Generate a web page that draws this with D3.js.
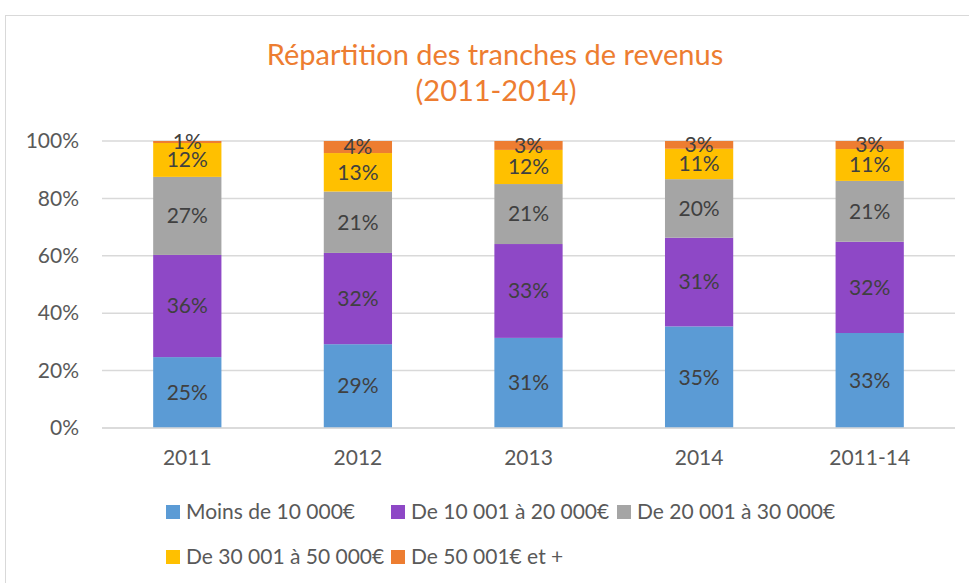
<!DOCTYPE html>
<html>
<head>
<meta charset="utf-8">
<script src="https://cdn.jsdelivr.net/npm/d3@7"></script>
<style>
  body { margin: 0; background: #fff; }
  text { font-family: Lato, "Open Sans", sans-serif; }
</style>
</head>
<body>
<div id="chart"></div>
<script>
var years = ["2011", "2012", "2013", "2014", "2011-14"];
var tranches = ["Moins de 10 000€", "De 10 001 à 20 000€", "De 20 001 à 30 000€",
                "De 30 001 à 50 000€", "De 50 001€ et +"];
var colors = ["#5b9bd5", "#8e48c6", "#a5a5a5", "#ffc000", "#ed7d31"];

// parts in % for each tranche, one value per year
var moins10   = [24.7, 29.2, 31.4, 35.4, 33.1];
var de10a20   = [35.6, 31.8, 32.7, 30.9, 31.8];
var de20a30   = [27.2, 21.4, 20.9, 20.4, 21.2];
var de30a50   = [11.8, 13.4, 11.9, 10.6, 11.1];
var plus50    = [0.7, 4.2, 3.1, 2.7, 2.8];
var yTicks = [0, 20, 40, 60, 80, 100];

var series = [moins10, de10a20, de20a30, de30a50, plus50];

var data = years.map(function(y, i) {
  var row = {year: y};
  tranches.forEach(function(t, j) { row[t] = series[j][i] / 100; });
  return row;
});

var W = 969, H = 583;
var margin = {top: 141, right: 14, bottom: 155, left: 102},
    width = W - margin.left - margin.right,
    height = H - margin.top - margin.bottom;

var svg = d3.select("#chart").append("svg")
  .attr("width", W)
  .attr("height", H);

// chart frame
svg.append("rect")
  .attr("x", 5.5).attr("y", 15.5)
  .attr("width", 1000).attr("height", 700)
  .attr("fill", "none")
  .attr("stroke", "#d9d9d9");

svg.append("text")
  .attr("x", 495).attr("y", 65)
  .attr("text-anchor", "middle")
  .style("font-size", "29px")
  .style("fill", "#ed7d31")
  .text("Répartition des tranches de revenus");
svg.append("text")
  .attr("x", 496).attr("y", 101)
  .attr("text-anchor", "middle")
  .style("font-size", "29px")
  .style("fill", "#ed7d31")
  .text("(2011-2014)");

var g = svg.append("g")
  .attr("transform", "translate(" + margin.left + "," + margin.top + ")");

var x = d3.scaleBand()
  .domain(years)
  .range([0, width])
  .paddingInner(0.6)
  .paddingOuter(0.3);

var y = d3.scaleLinear()
  .domain([0, 1])
  .range([height, 0]);

// gridlines
g.append("g")
  .selectAll("line")
  .data(yTicks)
  .enter().append("line")
  .attr("x1", 0).attr("x2", width)
  .attr("y1", function(d) { return y(d / 100); })
  .attr("y2", function(d) { return y(d / 100); })
  .attr("stroke", "#d9d9d9")
  .attr("stroke-width", 1.5);

var yAxis = d3.axisLeft(y)
  .tickValues(yTicks.map(function(d) { return d / 100; }))
  .tickFormat(d3.format(".0%"))
  .tickSize(0)
  .tickPadding(23);

g.append("g")
  .call(yAxis)
  .call(function(s) { s.select(".domain").remove(); })
  .selectAll("text")
  .style("font-size", "21px")
  .style("fill", "#595959");

var stack = d3.stack().keys(tranches);
var layers = stack(data);

var layer = g.selectAll(".layer")
  .data(layers)
  .enter().append("g")
  .attr("class", "layer")
  .attr("fill", function(d, i) { return colors[i]; });

layer.selectAll("rect")
  .data(function(d) { return d; })
  .enter().append("rect")
  .attr("x", function(d) { return x(d.data.year); })
  .attr("y", function(d) { return y(d[1]); })
  .attr("width", x.bandwidth())
  .attr("height", function(d) { return y(d[0]) - y(d[1]); });

var fmt = d3.format(".0%");
layer.selectAll("text")
  .data(function(d) { return d; })
  .enter().append("text")
  .attr("x", function(d) { return x(d.data.year) + x.bandwidth() / 2; })
  .attr("y", function(d) { return (y(d[0]) + y(d[1])) / 2; })
  .attr("dy", "0.35em")
  .attr("text-anchor", "middle")
  .style("font-size", "21px")
  .style("fill", "#404040")
  .text(function(d) { return fmt(d[1] - d[0]); });

// x axis line
g.append("line")
  .attr("x1", 0).attr("x2", width)
  .attr("y1", height).attr("y2", height)
  .attr("stroke", "#d9d9d9")
  .attr("stroke-width", 1.5);

var xAxis = d3.axisBottom(x).tickSize(0).tickPadding(22);
g.append("g")
  .attr("transform", "translate(0," + height + ")")
  .call(xAxis)
  .call(function(s) { s.select(".domain").remove(); })
  .selectAll("text")
  .style("font-size", "21px")
  .style("fill", "#595959");

// legend, laid out on a grid of 3 columns
var legendPos = [[166, 512], [391, 512], [617, 512], [166, 557], [391, 557]];
var legend = svg.selectAll(".legend")
  .data(tranches)
  .enter().append("g")
  .attr("class", "legend")
  .attr("transform", function(d, i) {
    return "translate(" + legendPos[i][0] + "," + legendPos[i][1] + ")";
  });

legend.append("rect")
  .attr("x", 0).attr("y", -7)
  .attr("width", 14).attr("height", 14)
  .attr("fill", function(d, i) { return colors[i]; });

legend.append("text")
  .attr("x", 20)
  .attr("dy", "0.35em")
  .style("font-size", "21px")
  .style("fill", "#595959")
  .text(function(d) { return d; });
</script>
</body>
</html>
